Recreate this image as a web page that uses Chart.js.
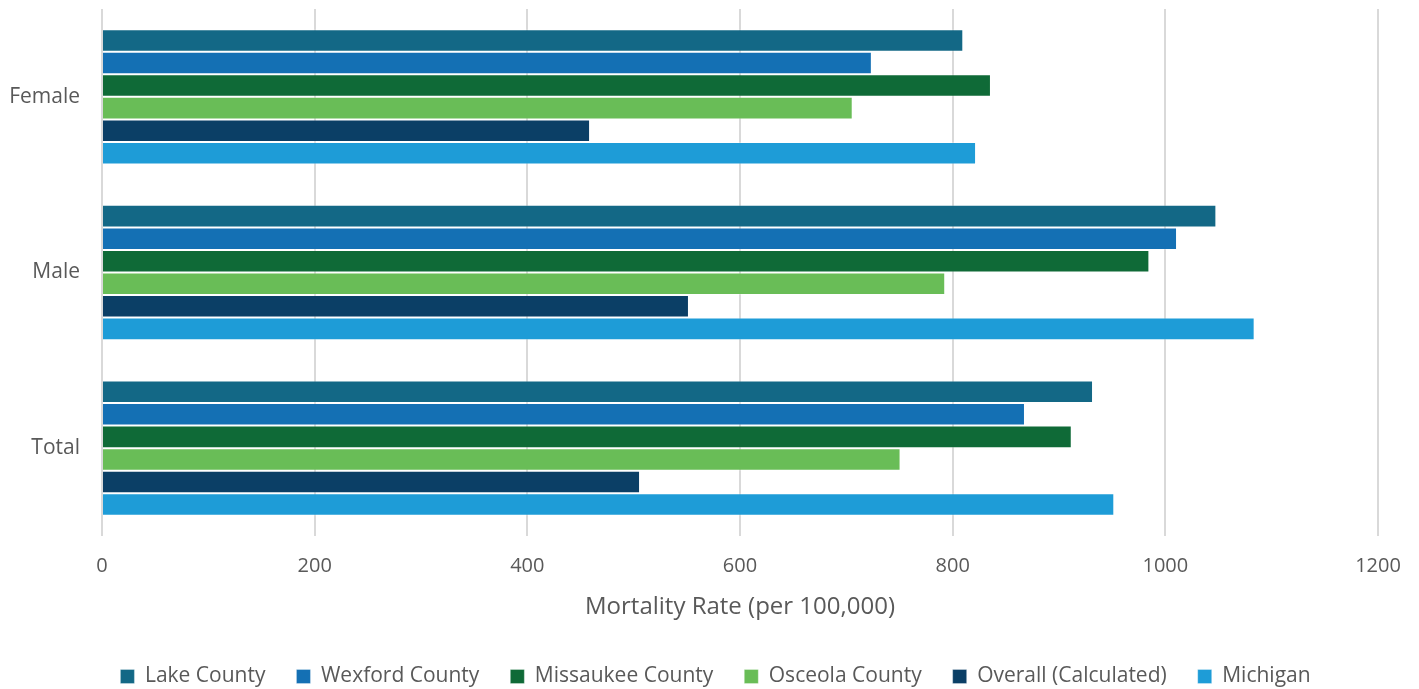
<!DOCTYPE html>
<html>
<head>
<meta charset="utf-8">
<script src="https://cdn.jsdelivr.net/npm/chart.js@4/dist/chart.umd.min.js"></script>
<style>
  html, body { margin: 0; padding: 0; background: #ffffff; }
  #wrap { width: 1419px; height: 689px; position: relative; }
</style>
</head>
<body>
<div id="wrap"><canvas id="chart"></canvas></div>
<script>
// Mortality rate per 100,000 by sex and area
const categories = ["Female", "Male", "Total"];
const seriesNames = ["Lake County", "Wexford County", "Missaukee County", "Osceola County", "Overall (Calculated)", "Michigan"];
const lakeCounty      = [810, 1048, 932];
const wexfordCounty   = [724, 1011, 868];
const missaukeeCounty = [836, 985, 912];
const osceolaCounty   = [706, 793, 751];
const overallCalc     = [459, 552, 506];
const michigan        = [822, 1084, 952];
const xTicks = [0, 200, 400, 600, 800, 1000, 1200];
const axisTitle = "Mortality Rate (per 100,000)";

const seriesValues = [lakeCounty, wexfordCounty, missaukeeCounty, osceolaCounty, overallCalc, michigan];
const colors = ["#136886", "#1470B4", "#0F6A37", "#69BD57", "#0B3F66", "#1E9CD7"];

const FONT = "'Open Sans', 'DejaVu Sans', sans-serif";
const TEXT = "#595959";

// Centre the legend row under the whole page rather than under the plot box
const legendShift = {
  id: "legendShift",
  afterLayout(chart) {
    const lg = chart.legend;
    if (lg) { lg.left += 6; lg.right += 6; }
  }
};

new Chart(document.getElementById("chart"), {
  type: "bar",
  data: {
    labels: categories,
    datasets: seriesNames.map((name, i) => ({
      label: name,
      data: seriesValues[i],
      backgroundColor: colors[i],
      borderColor: "rgba(255,255,255,0.3)",
      borderWidth: 1,
      categoryPercentage: 0.77,
      barPercentage: 1.0
    }))
  },
  plugins: [legendShift],
  options: {
    indexAxis: "y",
    responsive: true,
    maintainAspectRatio: false,
    animation: false,
    layout: { padding: { top: 9, right: 0, left: 0, bottom: -8 } },
    scales: {
      x: {
        min: 0,
        max: 1200,
        afterBuildTicks: (scale) => { scale.ticks = xTicks.map(v => ({ value: v })); },
        ticks: {
          color: TEXT,
          font: { family: FONT, size: 20 },
          padding: 18,
          callback: (v) => String(v)
        },
        grid: { color: "#d9d9d9", lineWidth: 2, drawTicks: false },
        border: { display: false },
        title: {
          display: true,
          text: axisTitle,
          color: TEXT,
          font: { family: FONT, size: 24 },
          padding: { top: 12, bottom: 13 }
        },
        afterFit: (scale) => {
          scale.height = 99;
          scale.paddingRight = 41;
        }
      },
      y: {
        ticks: { color: TEXT, font: { family: FONT, size: 21 }, padding: 22 },
        grid: { display: false, drawTicks: false },
        border: { display: false },
        afterFit: (scale) => {
          scale.width = 102;
          scale.paddingTop = 0;
          scale.paddingBottom = 0;
        }
      }
    },
    plugins: {
      legend: {
        position: "bottom",
        labels: {
          color: TEXT,
          font: { family: FONT, size: 21 },
          boxWidth: 14,
          boxHeight: 14,
          padding: 31
        }
      },
      tooltip: { enabled: false }
    }
  }
});
</script>
</body>
</html>
